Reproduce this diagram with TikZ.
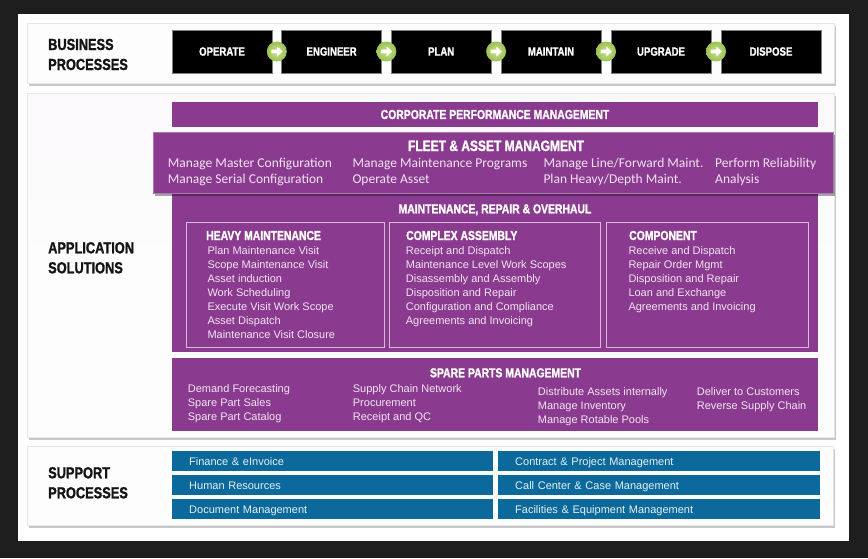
\documentclass[tikz,border=0pt]{standalone}
\usepackage{fontspec}
\setmainfont{Liberation Sans}
\newfontfamily\hd{Liberation Sans}[FakeStretch=0.8, BoldFeatures={FakeBold=1.2}]
\newfontfamily\calfont{Carlito}
\usetikzlibrary{shadows,calc}
\newcommand\myfs[1]{\fontsize{#1}{#1}\selectfont}
\definecolor{bgdark}{HTML}{1E1E1E}
\definecolor{purp}{HTML}{8B3B8F}
\definecolor{blu}{HTML}{0B6A9B}
\definecolor{grnin}{HTML}{C9E09A}
\definecolor{grnout}{HTML}{9CC24E}
\definecolor{lav}{HTML}{F1E4F2}
\definecolor{lavline}{HTML}{D8B9DA}
\definecolor{sblu}{HTML}{E6EFF5}
\definecolor{panelc}{HTML}{FDFDFD}
\definecolor{panelline}{HTML}{E6E6E6}
\begin{document}
\begin{tikzpicture}[x=1pt,y=-1pt,
  panel/.style={rectangle, inner sep=0, fill=panelc, draw=panelline, line width=0.5pt,
    drop shadow={shadow xshift=1.5pt, shadow yshift=-2.5pt, opacity=0.22, fill=black}},
  bpbox/.style={rectangle, inner sep=0, fill=black, draw=black!50, line width=0.4pt,
    minimum width=100pt, minimum height=43pt, font=\hd\bfseries\myfs{12}, text=white},
  garrow/.style={circle, inner sep=0, minimum size=20pt, inner color=grnin, outer color=grnout},
  pbar/.style={rectangle, inner sep=0, fill=purp},
  ibox/.style={rectangle, inner sep=0, draw=lavline, line width=0.8pt},
  sbar/.style={rectangle, anchor=north west, fill=blu, inner xsep=17pt, inner ysep=0,
    minimum height=20pt, text height=10pt, text depth=2pt, align=left,
    font=\myfs{11}, text=sblu},
  sect/.style={anchor=base west, inner sep=0, font=\hd\bfseries\myfs{16}, text=black!92},
  ttl/.style={anchor=base, inner sep=0, font=\hd\bfseries\myfs{13}, text=white},
  subhd/.style={anchor=base west, inner sep=0, font=\hd\bfseries\myfs{13}, text=white},
  item/.style={anchor=base west, inner sep=0, font=\myfs{11}, text=lav},
  fitem/.style={anchor=base west, inner sep=0, font=\calfont\myfs{13.5}, text=lav}
]
\useasboundingbox (0,0) rectangle (868,558);
\fill[bgdark] (0,0) rectangle (868,558);
\fill[white] (18,14) rectangle (849,541);

% panels
\node[panel, anchor=north west, minimum width=807pt, minimum height=60pt] (bpp) at (27,23) {};
\node[panel, anchor=north west, minimum width=807pt, minimum height=344pt,
  top color=black!4!purp!3!white, bottom color=panelc, middle color=panelc] (app) at (27,93) {};
\node[panel, anchor=north west, minimum width=806pt, minimum height=79pt] (spp) at (27,446) {};

% section labels
\node[sect] (l1a) at (48,50) {BUSINESS};
\node[sect] (l1b) at (48,70) {PROCESSES};
\node[sect] (l2a) at (48,253.3) {APPLICATION};
\node[sect] (l2b) at (48,273.3) {SOLUTIONS};
\node[sect] (l3a) at (48,478.3) {SUPPORT};
\node[sect] (l3b) at (48,498.3) {PROCESSES};

% business processes
\node[bpbox] (op) at (222,51.5) {OPERATE};
\node[bpbox] (en) at (331.6,51.5) {ENGINEER};
\node[bpbox] (pl) at (441.2,51.5) {PLAN};
\node[bpbox] (ma) at (551,51.5) {MAINTAIN};
\node[bpbox] (up) at (661,51.5) {UPGRADE};
\node[bpbox] (di) at (771,51.5) {DISPOSE};
\foreach \a/\b [count=\k] in {op/en,en/pl,pl/ma,ma/up,up/di}{
  \node[garrow] (g\k) at ($(\a.east)!0.5!(\b.west)$) {};
  \fill[white] ([shift={(-5.5,-1.9)}]g\k.center) -- ([shift={(0.3,-1.9)}]g\k.center)
    -- ([shift={(0.3,-5)}]g\k.center) -- ([shift={(5.8,0)}]g\k.center)
    -- ([shift={(0.3,5)}]g\k.center) -- ([shift={(0.3,1.9)}]g\k.center)
    -- ([shift={(-5.5,1.9)}]g\k.center) -- cycle;
}

% corporate performance
\node[pbar, minimum width=646pt, minimum height=25pt, font=\hd\bfseries\myfs{13}, text=white]
  (cpm) at (495,114.5) {CORPORATE PERFORMANCE MANAGEMENT};

% MRO block
\node[pbar, anchor=north west, minimum width=646pt, minimum height=162pt] (mro) at (172,190) {};
\node[ttl] (mrot) at (495,213.3) {MAINTENANCE, REPAIR \& OVERHAUL};
\node[ibox, anchor=north west, minimum width=198pt, minimum height=125pt] (hm) at (186,222) {};
\node[ibox, anchor=north west, minimum width=211pt, minimum height=125pt] (ca) at (389,222) {};
\node[ibox, anchor=north west, minimum width=202pt, minimum height=125pt] (co) at (606,222) {};
\node[subhd] (hmh) at (206,240) {HEAVY MAINTENANCE};
\node[subhd] (cah) at (406,240) {COMPLEX ASSEMBLY};
\node[subhd] (coh) at (629,240) {COMPONENT};
\foreach \t [count=\i] in {Plan Maintenance Visit,Scope Maintenance Visit,Asset induction,Work Scheduling,Execute Visit Work Scope,Asset Dispatch,Maintenance Visit Closure}
  \node[item] (hm\i) at (207.3,{240.3+14*\i}) {\t};
\foreach \t [count=\i] in {Receipt and Dispatch,Maintenance Level Work Scopes,Disassembly and Assembly,Disposition and Repair,Configuration and Compliance,Agreements and Invoicing}
  \node[item] (ca\i) at (405.7,{240.3+14*\i}) {\t};
\foreach \t [count=\i] in {Receive and Dispatch,Repair Order Mgmt,Disposition and Repair,Loan and Exchange,Agreements and Invoicing}
  \node[item] (co\i) at (628.3,{240.8+14*\i}) {\t};

% fleet & asset management
\node[pbar, anchor=north west, minimum width=680pt, minimum height=61pt, draw=purp!70!white, line width=0.5pt,
  drop shadow={shadow xshift=1.5pt, shadow yshift=-2.5pt, opacity=0.35, fill=black}] (fam) at (153,132) {};
\node[anchor=base, inner sep=0, font=\hd\bfseries\myfs{15}, text=white] (famt) at (496,151) {FLEET \& ASSET MANAGMENT};
\node[fitem] (f11) at (167.7,167.5) {Manage Master Configuration};
\node[fitem] (f12) at (167.7,183.5) {Manage Serial Configuration};
\node[fitem] (f21) at (352.3,167.5) {Manage Maintenance Programs};
\node[fitem] (f22) at (352.3,183.5) {Operate Asset};
\node[fitem] (f31) at (543.3,167.5) {Manage Line/Forward Maint.};
\node[fitem] (f32) at (543.3,183.5) {Plan Heavy/Depth Maint.};
\node[fitem] (f41) at (715,167.5) {Perform Reliability};
\node[fitem] (f42) at (715,183.5) {Analysis};

% spare parts
\node[pbar, anchor=north west, minimum width=646pt, minimum height=73pt] (spm) at (172,358) {};
\node[ttl] (spmt) at (505.5,377.3) {SPARE PARTS MANAGEMENT};
\foreach \t [count=\i] in {Demand Forecasting,Spare Part Sales,Spare Part Catalog}
  \node[item] (s1\i) at (187.7,{378.3+14*\i}) {\t};
\foreach \t [count=\i] in {Supply Chain Network,Procurement,Receipt and QC}
  \node[item] (s2\i) at (352.7,{378.3+14*\i}) {\t};
\foreach \t [count=\i] in {Distribute Assets internally,Manage Inventory,Manage Rotable Pools}
  \node[item] (s3\i) at (537.7,{381.9+13.8*\i}) {\t};
\foreach \t [count=\i] in {Deliver to Customers,Reverse Supply Chain}
  \node[item] (s4\i) at (696.7,{381.9+13.8*\i}) {\t};

% support processes
\node[sbar, text width={321pt-34pt}, minimum width=321pt] (fin) at (172,451) {Finance \& eInvoice};
\node[sbar, text width={321pt-34pt}, minimum width=321pt] (hr) at (172,475) {Human Resources};
\node[sbar, text width={321pt-34pt}, minimum width=321pt] (dm) at (172,499) {Document Management};
\node[sbar, text width={322pt-34pt}, minimum width=322pt] (cpj) at (498,451) {Contract \& Project Management};
\node[sbar, text width={322pt-34pt}, minimum width=322pt] (cc) at (498,475) {Call Center \& Case Management};
\node[sbar, text width={322pt-34pt}, minimum width=322pt] (fe) at (498,499) {Facilities \& Equipment Management};
\end{tikzpicture}
\end{document}
